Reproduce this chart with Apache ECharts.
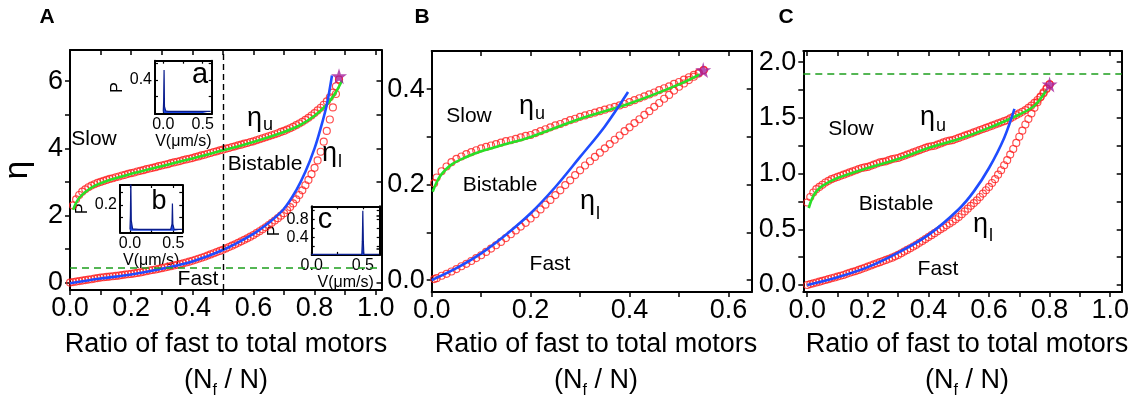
<!DOCTYPE html>
<html>
<head>
<meta charset="utf-8">
<script src="https://cdn.jsdelivr.net/npm/echarts@6/dist/echarts.min.js"></script>
<style>
  html, body { margin: 0; padding: 0; background: #fff; }
  #chart { width: 1132px; height: 399px; }
</style>
</head>
<body>
<div id="chart"></div>
<script>
const FONT = '"Liberation Sans", Arial, sans-serif'

// ---- Panel A (Nf/N sampled every 0.01) ----
const fracA = [0.00,0.01,0.02,0.03,0.04,0.05,0.06,0.07,0.08,0.09,0.10,0.11,0.12,0.13,0.14,0.15,0.16,0.17,0.18,0.19,
  0.20,0.21,0.22,0.23,0.24,0.25,0.26,0.27,0.28,0.29,0.30,0.31,0.32,0.33,0.34,0.35,0.36,0.37,0.38,0.39,
  0.40,0.41,0.42,0.43,0.44,0.45,0.46,0.47,0.48,0.49,0.50,0.51,0.52,0.53,0.54,0.55,0.56,0.57,0.58,0.59,
  0.60,0.61,0.62,0.63,0.64,0.65,0.66,0.67,0.68,0.69,0.70,0.71,0.72,0.73,0.74,0.75,0.76,0.77,0.78,0.79,
  0.80,0.81,0.82,0.83,0.84,0.85,0.86,0.87,0.88]
const etaUpperA = [null,2.30,2.48,2.61,2.71,2.78,2.84,2.89,2.93,2.97,3.00,3.03,3.06,3.09,3.11,3.14,3.16,3.19,3.21,3.24,
  3.26,3.28,3.31,3.33,3.35,3.38,3.40,3.42,3.44,3.47,3.49,3.51,3.53,3.56,3.58,3.60,3.62,3.65,3.67,3.69,
  3.71,3.74,3.76,3.79,3.81,3.84,3.86,3.89,3.91,3.94,3.96,3.99,4.01,4.04,4.06,4.09,4.11,4.14,4.16,4.19,
  4.21,4.24,4.27,4.30,4.33,4.36,4.39,4.42,4.45,4.49,4.52,4.56,4.60,4.64,4.69,4.74,4.79,4.85,4.91,4.98,
  5.05,5.13,5.21,5.30,5.40,5.52,5.66,5.85,6.05]
const etaLowerA = [0.00,0.015,0.03,0.045,0.06,0.075,0.09,0.10,0.12,0.135,0.15,0.16,0.17,0.18,0.19,0.20,0.21,0.225,0.24,0.25,
  0.26,0.275,0.29,0.305,0.32,0.34,0.36,0.375,0.39,0.41,0.43,0.45,0.47,0.49,0.51,0.53,0.55,0.575,0.60,0.625,
  0.65,0.68,0.71,0.74,0.77,0.805,0.84,0.875,0.91,0.945,0.98,1.02,1.06,1.10,1.14,1.185,1.23,1.275,1.32,1.37,
  1.42,1.475,1.53,1.59,1.65,1.715,1.78,1.85,1.92,1.995,2.07,2.16,2.25,2.36,2.48,2.61,2.75,2.90,3.06,3.23,
  3.42,3.64,3.90,4.20,4.52,4.86,5.22,5.62,6.05]
const fitUpperA = [[0.01,2.17],[0.02,2.38],[0.03,2.52],[0.05,2.70],[0.08,2.88],[0.12,3.03],[0.20,3.24],[0.30,3.47],
  [0.40,3.70],[0.50,3.94],[0.60,4.19],[0.70,4.49],[0.75,4.68],[0.80,4.97],[0.84,5.30],[0.87,5.68],[0.89,6.02]]
const fitLowerA = [[0.00,-0.02],[0.10,0.12],[0.20,0.24],[0.30,0.41],[0.40,0.63],[0.50,0.97],[0.60,1.45],[0.65,1.78],
  [0.70,2.20],[0.74,2.75],[0.77,3.30],[0.80,4.00],[0.82,4.60],[0.84,5.30],[0.857,6.17]]
const criticalA = [0.88, 6.15]
const switchA = 0.5
const thresholdA = 0.45

// ---- Panel B ----
const fracB = [0.005,0.01,0.02,0.03,0.04,0.05,0.06,0.07,0.08,0.09,0.10,0.11,0.12,0.13,0.14,0.15,0.16,0.17,0.18,0.19,
  0.20,0.21,0.22,0.23,0.24,0.25,0.26,0.27,0.28,0.29,0.30,0.31,0.32,0.33,0.34,0.35,0.36,0.37,0.38,0.39,
  0.40,0.41,0.42,0.43,0.44,0.45,0.46,0.47,0.48,0.49,0.50,0.51,0.52,0.53,0.54,0.55]
const etaUpperB = [0.203,0.215,0.228,0.238,0.247,0.254,0.259,0.264,0.268,0.272,0.276,0.279,0.282,0.285,0.288,0.291,0.293,0.296,0.299,0.302,
  0.304,0.308,0.312,0.316,0.320,0.324,0.327,0.331,0.335,0.338,0.342,0.345,0.348,0.351,0.354,0.357,0.360,0.363,0.366,0.369,
  0.373,0.377,0.381,0.385,0.389,0.393,0.398,0.402,0.406,0.411,0.415,0.420,0.425,0.430,0.435,0.440]
const etaLowerB = [0.002,0.004,0.009,0.013,0.018,0.023,0.029,0.034,0.040,0.046,0.052,0.059,0.066,0.073,0.080,0.088,0.096,0.104,0.112,0.120,
  0.129,0.138,0.148,0.158,0.168,0.178,0.188,0.199,0.209,0.220,0.230,0.240,0.249,0.258,0.267,0.276,0.285,0.294,0.303,0.312,
  0.320,0.329,0.337,0.346,0.354,0.363,0.371,0.380,0.388,0.397,0.405,0.412,0.419,0.426,0.433,0.440]
const fitUpperB = [[0.002,0.185],[0.01,0.205],[0.02,0.222],[0.04,0.242],[0.07,0.258],[0.10,0.270],[0.15,0.285],
  [0.20,0.300],[0.30,0.338],[0.40,0.370],[0.50,0.410],[0.542,0.431]]
const fitLowerB = [[0.00,0.00],[0.05,0.025],[0.10,0.056],[0.15,0.095],[0.20,0.140],[0.25,0.195],[0.30,0.258],
  [0.35,0.322],[0.397,0.394]]
const criticalB = [0.549, 0.44]

// ---- Panel C ----
const fracC = [0.00,0.01,0.02,0.03,0.04,0.05,0.06,0.07,0.08,0.09,0.10,0.11,0.12,0.13,0.14,0.15,0.16,0.17,0.18,0.19,
  0.20,0.21,0.22,0.23,0.24,0.25,0.26,0.27,0.28,0.29,0.30,0.31,0.32,0.33,0.34,0.35,0.36,0.37,0.38,0.39,
  0.40,0.41,0.42,0.43,0.44,0.45,0.46,0.47,0.48,0.49,0.50,0.51,0.52,0.53,0.54,0.55,0.56,0.57,0.58,0.59,
  0.60,0.61,0.62,0.63,0.64,0.65,0.66,0.67,0.68,0.69,0.70,0.71,0.72,0.73,0.74,0.75,0.76,0.77,0.78,0.79,0.80]
const etaUpperC = [0.74,0.79,0.83,0.86,0.88,0.90,0.92,0.935,0.95,0.96,0.97,0.98,0.99,1.00,1.01,1.02,1.03,1.04,1.05,1.055,
  1.06,1.07,1.08,1.09,1.10,1.105,1.11,1.12,1.13,1.135,1.14,1.15,1.16,1.17,1.18,1.19,1.20,1.21,1.22,1.23,
  1.24,1.245,1.25,1.26,1.27,1.28,1.29,1.295,1.30,1.31,1.32,1.33,1.34,1.35,1.36,1.37,1.38,1.39,1.40,1.41,
  1.42,1.43,1.44,1.45,1.46,1.47,1.48,1.495,1.51,1.525,1.54,1.555,1.57,1.59,1.61,1.635,1.66,1.69,1.72,1.76,1.80]
const etaLowerC = [0.00,0.008,0.015,0.022,0.03,0.037,0.045,0.052,0.06,0.067,0.075,0.083,0.09,0.10,0.11,0.118,0.125,0.135,0.145,0.155,
  0.165,0.175,0.185,0.195,0.205,0.215,0.225,0.235,0.245,0.257,0.27,0.285,0.30,0.315,0.33,0.345,0.36,0.378,0.395,0.412,
  0.43,0.447,0.465,0.482,0.50,0.517,0.535,0.552,0.57,0.59,0.61,0.635,0.66,0.685,0.71,0.735,0.76,0.79,0.82,0.85,
  0.88,0.915,0.95,0.99,1.03,1.075,1.12,1.17,1.22,1.275,1.33,1.385,1.44,1.49,1.54,1.59,1.64,1.685,1.73,1.765,1.80]
const fitUpperC = [[0.005,0.69],[0.015,0.77],[0.03,0.84],[0.05,0.89],[0.10,0.96],[0.20,1.05],[0.30,1.13],
  [0.40,1.23],[0.50,1.31],[0.60,1.41],[0.70,1.53],[0.75,1.61],[0.79,1.75]]
const fitLowerC = [[0.00,0.00],[0.10,0.07],[0.20,0.16],[0.30,0.29],[0.40,0.45],[0.50,0.68],[0.55,0.84],
  [0.60,1.05],[0.65,1.32],[0.684,1.58]]
const criticalC = [0.80, 1.80]
const thresholdC = 1.9

// ---- velocity distributions (insets a, b, c) ----
const velA = [0.00,0.005,0.01,0.015,0.03,0.06,0.10,0.30,0.50,0.60]
const probA = [0.02,0.15,0.52,0.08,0.025,0.02,0.02,0.02,0.02,0.02]
const velB = [0.00,0.005,0.01,0.015,0.03,0.10,0.30,0.47,0.485,0.49,0.495,0.51,0.60]
const probB = [0.01,0.12,0.40,0.08,0.015,0.01,0.01,0.01,0.05,0.21,0.05,0.01,0.01]
const velC = [0.00,0.30,0.49,0.495,0.50,0.505,0.51,0.66]
const probC = [0.015,0.015,0.015,0.3,1.0,0.3,0.015,0.015]

const pairs = (xs, ys) => xs.map((x, i) => [x, ys[i]]).filter(p => p[1] != null)

function steps(a, b, step) {
  const out = []
  for (let i = Math.ceil(a / step - 1e-9); i * step <= b + 1e-9; i++) out.push(+(i * step).toFixed(6))
  return out
}

const STAR = 'path://M50,0 L61,35 L98,35 L68,57 L79,91 L50,70 L21,91 L32,57 L2,35 L39,35 Z'

const grids = [
  { left: 66, top: 50, width: 315.5, height: 240 },
  { left: 431.7, top: 51, width: 320, height: 241 },
  { left: 803.3, top: 51, width: 318.4, height: 241 },
  { left: 155, top: 60.7, width: 56.7, height: 53.3 },
  { left: 120, top: 185, width: 62.3, height: 47.3 },
  { left: 311.7, top: 206.3, width: 68, height: 48.6 }
]

const xAxes = []
const yAxes = []

function frame(g, c) {
  const line = { onZero: false, lineStyle: { color: '#000', width: 2 } }
  const tickStyle = { color: '#000', width: c.inset ? 1.2 : 1.5 }
  const label = { color: '#000', fontFamily: FONT, fontSize: c.fs }
  xAxes.push({
    gridIndex: g, type: 'value', position: 'bottom', min: c.xMin, max: c.xMax,
    axisLine: line, splitLine: { show: false },
    axisTick: { inside: !!c.inset, length: c.tl, lineStyle: tickStyle, customValues: c.xTicks },
    axisLabel: Object.assign({ customValues: c.xLabels, formatter: v => v.toFixed(1), margin: c.xm }, label),
    name: c.xName, nameLocation: 'middle', nameGap: c.xGap, nameTextStyle: c.xNameStyle
  })
  xAxes.push({
    gridIndex: g, type: 'value', position: 'top', min: c.xMin, max: c.xMax,
    axisLine: line, splitLine: { show: false },
    axisTick: { inside: true, length: c.tl, lineStyle: tickStyle, customValues: c.xTicks },
    axisLabel: { show: false }
  })
  yAxes.push({
    gridIndex: g, type: 'value', position: 'left', min: c.yMin, max: c.yMax,
    axisLine: line, splitLine: { show: false },
    axisTick: { inside: !!c.inset, length: c.tl, lineStyle: tickStyle, customValues: c.yTicks },
    axisLabel: Object.assign({ customValues: c.yLabels, formatter: v => v.toFixed(c.yDigits), margin: c.ym }, label),
    name: c.yName, nameLocation: 'middle', nameRotate: 90, nameGap: c.yGap, nameTextStyle: c.yNameStyle
  })
  yAxes.push({
    gridIndex: g, type: 'value', position: 'right', min: c.yMin, max: c.yMax,
    axisLine: line, splitLine: { show: false },
    axisTick: { inside: true, length: c.tl, lineStyle: tickStyle, customValues: c.yTicks },
    axisLabel: { show: false }
  })
}

const main = { fs: 27, xm: 5, ym: 7, tl: 5 }

frame(0, Object.assign({}, main, {
  xMin: 0, xMax: 1.019, xTicks: steps(0, 1.0, 0.1), xLabels: steps(0, 1.0, 0.2),
  yMin: -0.22, yMax: 6.93, yTicks: steps(0, 6.9, 1), yLabels: steps(0, 6, 2), yDigits: 0,
  yName: 'η', yGap: 36, yNameStyle: { fontSize: 33, fontFamily: FONT, color: '#000' }
}))
frame(1, Object.assign({}, main, {
  xMin: 0, xMax: 0.647, xTicks: steps(0, 0.64, 0.1), xLabels: steps(0, 0.6, 0.2),
  yMin: -0.025, yMax: 0.48, yTicks: steps(0, 0.47, 0.1), yLabels: steps(0, 0.4, 0.2), yDigits: 1
}))
frame(2, Object.assign({}, main, {
  xMin: -0.013, xMax: 1.038, xTicks: steps(0, 1.0, 0.1), xLabels: steps(0, 1.0, 0.2),
  yMin: -0.063, yMax: 2.10, yTicks: steps(0, 2.0, 0.25), yLabels: steps(0, 2.0, 0.5), yDigits: 1
}))

const insetName = { fontSize: 16, fontFamily: FONT, color: '#000' }
const inset = { inset: true, fs: 16, xm: 3, ym: 3, tl: 3, xName: 'V(μm/s)', xGap: 16, xNameStyle: insetName,
  yName: 'P', yNameStyle: insetName, yDigits: 1 }
frame(3, Object.assign({}, inset, {
  xMin: -0.105, xMax: 0.614, xTicks: [0, 0.25, 0.5], xLabels: [0, 0.5],
  yMin: -0.012, yMax: 0.634, yTicks: [0.2, 0.4, 0.6], yLabels: [0.4], yGap: 24
}))
frame(4, Object.assign({}, inset, {
  xMin: -0.115, xMax: 0.604, xTicks: [0, 0.25, 0.5], xLabels: [0, 0.5],
  yMin: -0.012, yMax: 0.352, yTicks: [0.1, 0.2, 0.3], yLabels: [0.2], yGap: 21
}))
frame(5, Object.assign({}, inset, {
  xMin: 0, xMax: 0.665, xTicks: [0, 0.25, 0.5], xLabels: [0, 0.5],
  yMin: 0, yMax: 1.1, yTicks: [0.2, 0.4, 0.6, 0.8, 1.0], yLabels: [0.4, 0.8], yGap: 24
}))

function circles(g, data) {
  return {
    type: 'scatter', xAxisIndex: 2 * g, yAxisIndex: 2 * g, data, silent: true,
    symbol: 'circle', symbolSize: 7, z: 2,
    itemStyle: { color: 'rgba(255,255,255,0)', borderColor: '#ff1f1f', borderWidth: 1.15 }
  }
}
function fit(g, data, color) {
  return {
    type: 'line', xAxisIndex: 2 * g, yAxisIndex: 2 * g, data, silent: true,
    showSymbol: false, smooth: 0.35, z: 3, lineStyle: { color, width: 2.6 }
  }
}
function star(g, pt) {
  return {
    type: 'scatter', xAxisIndex: 2 * g, yAxisIndex: 2 * g, data: [pt], silent: true,
    symbol: STAR, symbolSize: 16, z: 5, itemStyle: { color: '#a5209c' }
  }
}
function dist(g, vs, ps) {
  return {
    type: 'line', xAxisIndex: 2 * g, yAxisIndex: 2 * g, data: pairs(vs, ps), silent: true,
    showSymbol: false, z: 3, lineStyle: { color: '#0b1d8c', width: 1.2 },
    areaStyle: { color: '#1b46e6', opacity: 1 }
  }
}

const GREEN = '#27e027'
const BLUE = '#1f4cff'

const markA = {
  silent: true, symbol: ['none', 'none'], label: { show: false },
  data: [
    { xAxis: switchA, lineStyle: { color: '#000', type: [6, 4], width: 1.4 } },
    { yAxis: thresholdA, lineStyle: { color: '#1d9e1d', type: [7, 5], width: 1.6 } }
  ]
}
const markC = {
  silent: true, symbol: ['none', 'none'], label: { show: false },
  data: [{ yAxis: thresholdC, lineStyle: { color: '#1d9e1d', type: [7, 5], width: 1.6 } }]
}

const series = [
  Object.assign(circles(0, pairs(fracA, etaUpperA)), { markLine: markA }),
  circles(0, pairs(fracA, etaLowerA)),
  fit(0, fitUpperA, GREEN), fit(0, fitLowerA, BLUE), star(0, criticalA),
  circles(1, pairs(fracB, etaUpperB)),
  circles(1, pairs(fracB, etaLowerB)),
  fit(1, fitUpperB, GREEN), fit(1, fitLowerB, BLUE), star(1, criticalB),
  Object.assign(circles(2, pairs(fracC, etaUpperC)), { markLine: markC }),
  circles(2, pairs(fracC, etaLowerC)),
  fit(2, fitUpperC, GREEN), fit(2, fitLowerC, BLUE), star(2, criticalC),
  dist(3, velA, probA), dist(4, velB, probB), dist(5, velC, probC)
]

// text annotations
function txt(text, x, y, size, extra) {
  return {
    type: 'text', x, y, silent: true, z: 10,
    style: Object.assign({ text, fontSize: size, fontFamily: FONT, fill: '#000', align: 'center', verticalAlign: 'middle' }, extra || {})
  }
}
// eta with subscript: left edge and baseline of the eta glyph
function eta(sub, x, base, subBase) {
  return [
    txt('η', x, base - 9, 27, { align: 'left' }),
    txt(sub, x + 16, subBase - 6, 18, { align: 'left' })
  ]
}
// two-line x-axis title below each main panel
function xTitle(cx) {
  return [
    txt('Ratio of fast to total motors', cx, 345, 27),
    txt('(N{s|f} / N)', cx, 381, 27, {
      lineHeight: 36,
      rich: { s: { fontSize: 16, fontFamily: FONT, fill: '#000', lineHeight: 16, verticalAlign: 'bottom' } }
    })
  ]
}

const graphic = [
  txt('A', 47, 17, 21, { fontWeight: 'bold' }),
  txt('B', 422, 17, 21, { fontWeight: 'bold' }),
  txt('C', 786, 17, 21, { fontWeight: 'bold' }),
  ...xTitle(226), ...xTitle(596), ...xTitle(967),
  txt('Slow', 94, 139, 21), txt('Bistable', 265, 164, 21), txt('Fast', 198, 279, 21),
  txt('Slow', 469, 116, 21), txt('Bistable', 500, 185, 21), txt('Fast', 550, 264, 21),
  txt('Slow', 851, 129, 21), txt('Bistable', 896, 204, 21), txt('Fast', 938, 269, 21),
  ...eta('u', 247, 128, 131), ...eta('l', 322, 163, 168),
  ...eta('u', 519, 116, 120), ...eta('l', 580, 211, 220),
  ...eta('u', 920, 127, 132), ...eta('l', 973, 234, 242),
  txt('a', 200, 75, 29), txt('b', 159, 202, 27), txt('c', 325, 220, 29)
]

const chart = echarts.init(document.getElementById('chart'), null, { renderer: 'canvas' })
chart.setOption({
  animation: false,
  backgroundColor: '#fff',
  grid: grids,
  xAxis: xAxes,
  yAxis: yAxes,
  series,
  graphic
})
</script>
</body>
</html>
